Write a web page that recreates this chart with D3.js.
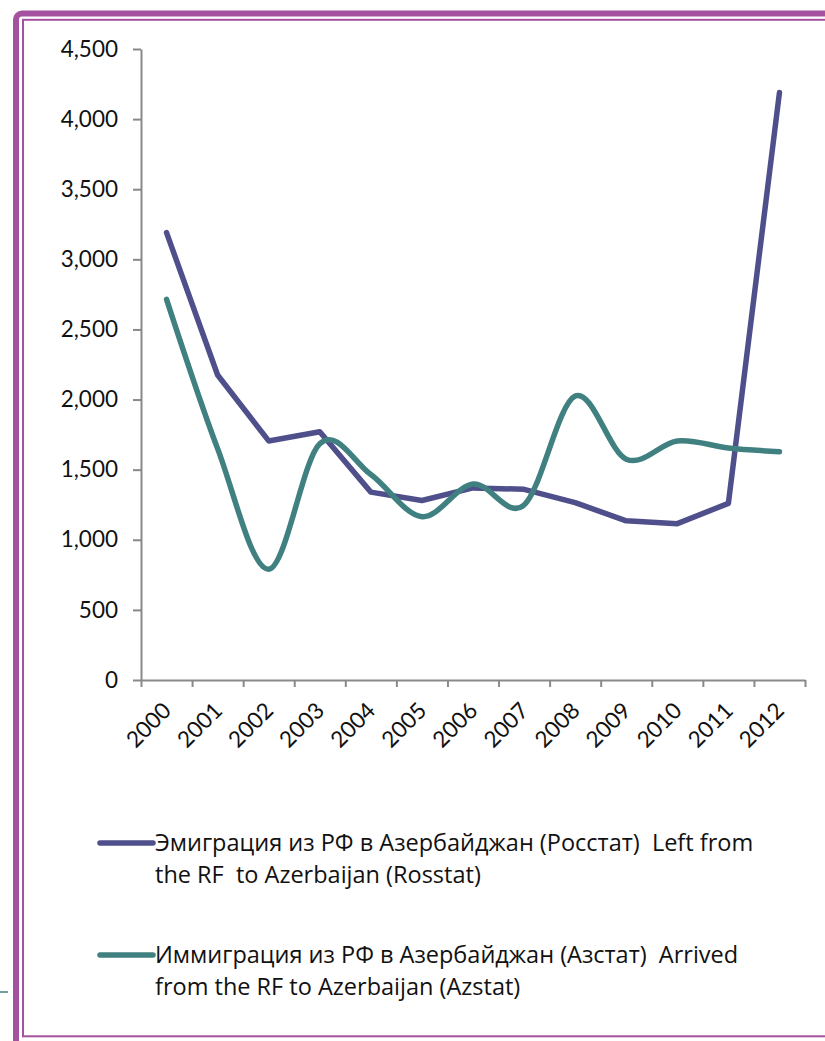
<!DOCTYPE html>
<html>
<head>
<meta charset="utf-8">
<script src="https://cdn.jsdelivr.net/npm/d3@7"></script>
<style>
  html, body { margin: 0; padding: 0; background: #fff; }
  svg { display: block; font-family: Lato, "Open Sans", sans-serif; }
  .legend text { white-space: pre; }
</style>
</head>
<body>
<svg id="chart"></svg>
<script>
// data
const years = ["2000","2001","2002","2003","2004","2005","2006","2007","2008","2009","2010","2011","2012"];
const emigration = [3190, 2175, 1705, 1770, 1340, 1280, 1370, 1360, 1265, 1135, 1115, 1260, 4190];
const immigration = [2715, 1650, 790, 1685, 1465, 1165, 1398, 1248, 2025, 1575, 1705, 1655, 1628];
const yTicks = [0, 500, 1000, 1500, 2000, 2500, 3000, 3500, 4000, 4500];
const legendLabels = [
  ["Эмиграция из РФ в Азербайджан (Росстат)  Left from", "the RF  to Azerbaijan (Rosstat)"],
  ["Иммиграция из РФ в Азербайджан (Азстат)  Arrived", "from the RF to Azerbaijan (Azstat)"]
];

const w = 825, h = 1041;
const purple = "#4f4f8b", teal = "#418080", frame = "#a4519f", axisGrey = "#898989";

const svg = d3.select("#chart").attr("width", w).attr("height", h);

// frame around the chart
svg.append("rect")
  .attr("x", 16).attr("y", 13.5).attr("width", 900).attr("height", 1045)
  .attr("rx", 6)
  .attr("fill", "none").attr("stroke", frame).attr("stroke-width", 6);
svg.append("rect")
  .attr("x", 23).attr("y", 19.8).attr("width", 900).attr("height", 1016.5)
  .attr("fill", "none").attr("stroke", frame).attr("stroke-width", 2);
svg.append("line")
  .attr("x1", 0).attr("x2", 8).attr("y1", 992).attr("y2", 992)
  .attr("stroke", teal).attr("stroke-width", 1.5);

//scales
const plotLeft = 141, plotRight = 805, plotTop = 49, plotBottom = 680;
const x = d3.scaleBand().domain(years).range([plotLeft, plotRight]).padding(0);
const xEdge = d3.scaleLinear().domain([0, years.length]).range([plotLeft, plotRight]);
const y = d3.scaleLinear().domain([0, 4500]).range([plotBottom, plotTop]);

//axes
const yAxis = d3.axisLeft(y)
  .tickValues(yTicks)
  .tickFormat(d3.format(","))
  .tickSize(8).tickSizeOuter(0).tickPadding(15);
const gy = svg.append("g").attr("transform", `translate(${plotLeft},0)`).call(yAxis);
gy.select(".domain").attr("stroke", axisGrey).attr("stroke-width", 2);
gy.selectAll(".tick line").attr("stroke", axisGrey).attr("stroke-width", 2);
gy.selectAll(".tick text").attr("font-size", 22.5).attr("fill", "#111").attr("font-family", "Lato, sans-serif");

const xTicks = d3.axisBottom(xEdge)
  .tickValues(d3.range(years.length + 1))
  .tickFormat("")
  .tickSize(7).tickSizeOuter(0);
const gx = svg.append("g").attr("transform", `translate(0,${plotBottom})`).call(xTicks);
gx.select(".domain").attr("stroke", axisGrey).attr("stroke-width", 2);
gx.selectAll(".tick line").attr("stroke", axisGrey).attr("stroke-width", 2);

svg.append("g").selectAll("text")
  .data(years)
  .join("text")
  .attr("transform", d => `translate(${x(d) + x.bandwidth() / 2 + 6},${plotBottom + 32}) rotate(-45)`)
  .attr("text-anchor", "end")
  .attr("font-size", 22.5)
  .attr("fill", "#111")
  .text(d => d);

// lines
const cx = (d, i) => x(years[i]) + x.bandwidth() / 2;
const straight = d3.line().x(cx).y(d => y(d));
const smooth = d3.line().x(cx).y(d => y(d)).curve(d3.curveCardinal.tension(0));

svg.append("path")
  .attr("d", straight(emigration))
  .attr("fill", "none").attr("stroke", purple).attr("stroke-width", 5.5)
  .attr("stroke-linecap", "round").attr("stroke-linejoin", "round");
svg.append("path")
  .attr("d", smooth(immigration))
  .attr("fill", "none").attr("stroke", teal).attr("stroke-width", 5.5)
  .attr("stroke-linecap", "round").attr("stroke-linejoin", "round");

// legend
const legendY = [843, 955];
const colors = [purple, teal];
legendLabels.forEach((lines, i) => {
  const g = svg.append("g").attr("class", "legend").attr("transform", `translate(0,${legendY[i]})`);
  g.append("line")
    .attr("x1", 100).attr("x2", 153).attr("y1", 0).attr("y2", 0)
    .attr("stroke", colors[i]).attr("stroke-width", 5.5).attr("stroke-linecap", "round");
  g.selectAll("text")
    .data(lines)
    .join("text")
    .attr("x", 155)
    .attr("y", (d, j) => 8 + j * 32)
    .attr("font-family", "'Open Sans', sans-serif")
    .attr("font-size", 23.5)
    .attr("fill", "#111")
    .text(d => d);
});
</script>
</body>
</html>
